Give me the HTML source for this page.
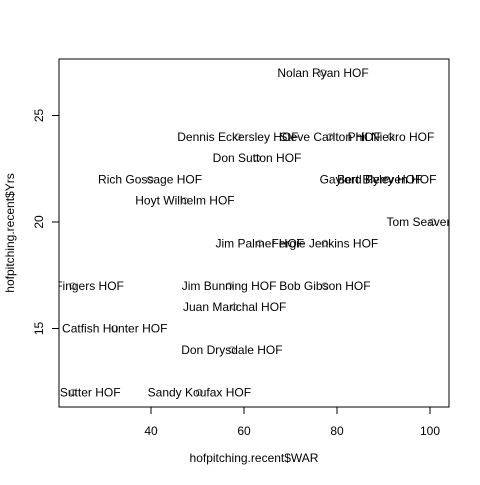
<!DOCTYPE html>
<html><head><meta charset="utf-8"><style>
body{margin:0;background:#fff}
svg text{font-family:"Liberation Sans",Arial,sans-serif;fill:#000}
</style></head><body>
<svg id="chart" width="480" height="480" xmlns="http://www.w3.org/2000/svg">
<rect x="59" y="59" width="390" height="348" fill="none" stroke="#000"/>
<g id="axes"></g>
<g id="pts"></g>
<text x="254" y="462" font-size="12" text-anchor="middle">hofpitching.recent$WAR</text>
<text transform="translate(14,233) rotate(-90)" font-size="12" text-anchor="middle">hofpitching.recent$Yrs</text>
</svg>
<script>
const names=["Nolan Ryan HOF","Dennis Eckersley HOF","Steve Carlton HOF","Phil Niekro HOF","Don Sutton HOF","Rich Gossage HOF","Gaylord Perry HOF","Bert Blyleven HOF","Hoyt Wilhelm HOF","Tom Seaver HOF","Jim Palmer HOF","Fergie Jenkins HOF","Rollie Fingers HOF","Jim Bunning HOF","Bob Gibson HOF","Juan Marichal HOF","Catfish Hunter HOF","Don Drysdale HOF","Bruce Sutter HOF","Sandy Koufax HOF"];
const war=[77,58.7,78.5,91.6,62.8,39.8,87.3,90.7,47.3,100.6,63.4,77.4,23.2,56.8,77.4,58,32.2,57.4,23.2,50.4];
const yrs=[27,24,24,24,23,22,22,22,21,20,19,19,17,17,17,16,15,14,12,12];
const xTicks=[40,60,80,100];
const yTicks=[15,20,25];
const X=v=>151+(v-40)*4.65, Y=v=>222-(v-20)*21.3;
const ns="http://www.w3.org/2000/svg";
const ax=document.getElementById('axes'), pg=document.getElementById('pts');
function mk(t,a,p){const e=document.createElementNS(ns,t);for(const k in a)e.setAttribute(k,a[k]);p.appendChild(e);return e;}
xTicks.forEach(t=>{const x=X(t);
const l=mk('line',{x1:x,x2:x,y1:407,y2:414,stroke:'#000'},ax);


const s=mk('text',{x:x,y:435,'font-size':12,'text-anchor':'middle'},ax);s.textContent=t;

});
yTicks.forEach(t=>{const y=Y(t);
const l=mk('line',{x1:52,x2:59,y1:y,y2:y,stroke:'#000'},ax);


const s=mk('text',{transform:`translate(43,${y}) rotate(-90)`,'font-size':12,'text-anchor':'middle'},ax);s.textContent=t;

});
const cp=mk('clipPath',{id:'cp'},document.getElementById('chart'));mk('rect',{x:59,y:59,width:390,height:348},cp);
pg.setAttribute('clip-path','url(#cp)');
names.forEach((n,i)=>{const x=X(war[i]),y=Y(yrs[i]);
const c=mk('circle',{cx:x,cy:y,r:3,fill:'none',stroke:'#777'},pg);


const t=mk('text',{x:x,y:y+4,'font-size':12,'text-anchor':'middle'},pg);t.textContent=n;

});
</script>
</body></html>
